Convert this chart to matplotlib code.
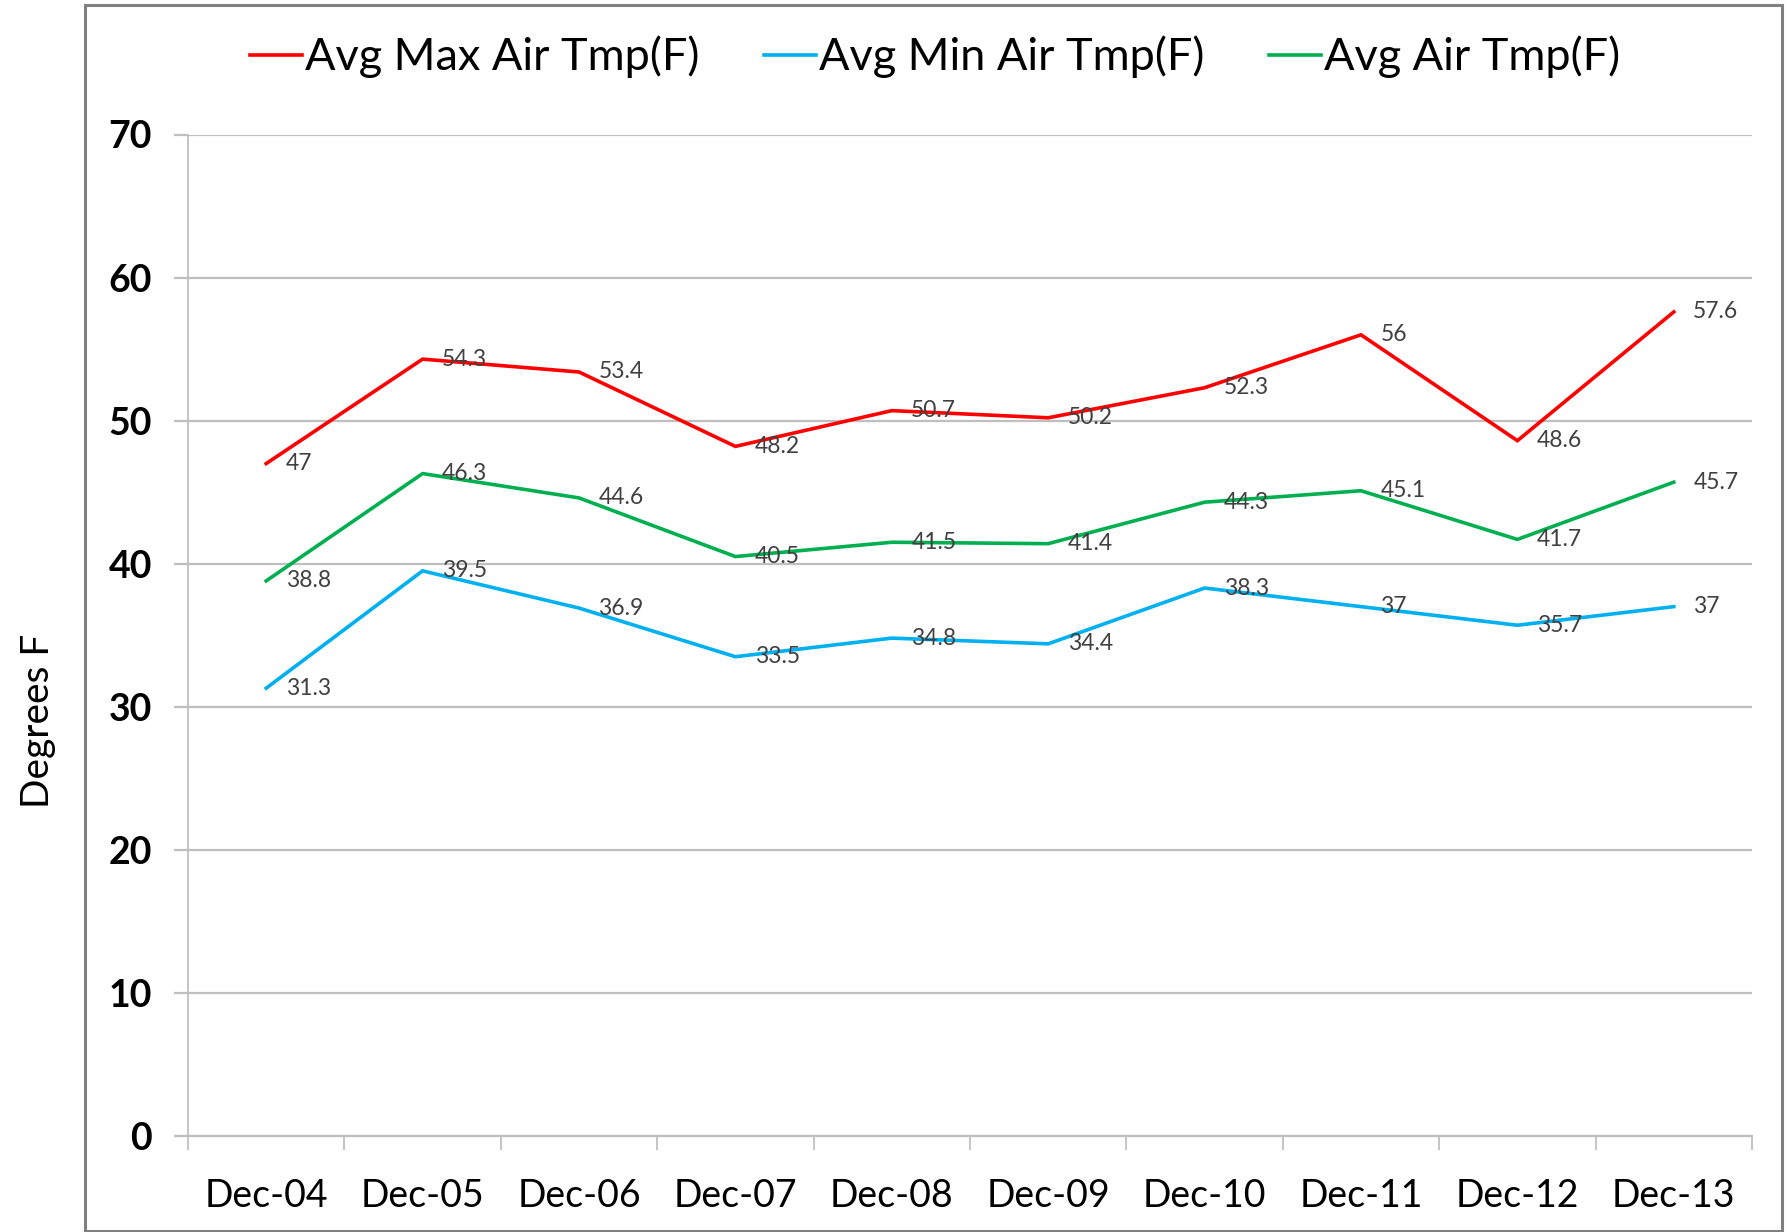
import matplotlib
matplotlib.use("Agg")
import matplotlib.pyplot as plt
from matplotlib.patches import Rectangle

plt.rcParams['font.family'] = ['Lato', 'DejaVu Sans']

categories = ["Dec-04", "Dec-05", "Dec-06", "Dec-07", "Dec-08",
              "Dec-09", "Dec-10", "Dec-11", "Dec-12", "Dec-13"]
avg_max = [47, 54.3, 53.4, 48.2, 50.7, 50.2, 52.3, 56, 48.6, 57.6]
avg_min = [31.3, 39.5, 36.9, 33.5, 34.8, 34.4, 38.3, 37, 35.7, 37]
avg_air = [38.8, 46.3, 44.6, 40.5, 41.5, 41.4, 44.3, 45.1, 41.7, 45.7]
series_names = ["Avg Max Air Tmp(F)", "Avg Min Air Tmp(F)", "Avg Air Tmp(F)"]
series_colors = ["#FF0000", "#00B0F0", "#00B050"]
y_ticks = [0, 10, 20, 30, 40, 50, 60, 70]

W, H = 1787, 1232
fig = plt.figure(figsize=(W / 100, H / 100), dpi=100)
ax = fig.add_axes([188 / W, 1 - 1136 / H, (1752 - 188) / W, (1136 - 134.5) / H])

x = list(range(len(categories)))
lines = []
for vals, name, col in zip([avg_max, avg_min, avg_air], series_names, series_colors):
    ln, = ax.plot(x, vals, color=col, lw=2.6, label=name, solid_joinstyle='miter', zorder=3)
    lines.append(ln)
    for xi, v in zip(x, vals):
        ax.annotate(f"{v:g}", (xi, v), xytext=(14, 0), textcoords='offset points',
                    ha='left', va='center', fontsize=16.5, color='#404040', zorder=4)

ax.set_xlim(-0.5, len(categories) - 0.5)
ax.set_ylim(0, 70)
ax.set_yticks(y_ticks)
ax.set_yticklabels([str(t) for t in y_ticks], fontsize=27, fontweight='bold', color='black')
ax.yaxis.grid(True, color='#BFBFBF', lw=1.6, zorder=0)
ax.set_axisbelow(True)

ax.set_xticks(x)
ax.set_xticklabels(categories, fontsize=27, color='black')
ax.tick_params(axis='x', which='major', length=0, pad=30)
ax.set_xticks([i - 0.5 for i in range(len(categories) + 1)], minor=True)
ax.tick_params(axis='x', which='minor', length=10, width=1.3, color='#BFBFBF', direction='out')
ax.tick_params(axis='y', length=10, width=1.6, color='#BFBFBF', pad=16)

for s in ['top', 'right']:
    ax.spines[s].set_visible(False)
ax.spines['left'].set_color('#BFBFBF')
ax.spines['left'].set_linewidth(1.3)
ax.spines['bottom'].set_color('#BFBFBF')
ax.spines['bottom'].set_linewidth(1.6)

ax.set_ylabel("Degrees F", fontsize=28)
ax.yaxis.set_label_coords(-(188 - 56) / (1752 - 188), 0.415)

leg = fig.legend(lines, series_names, loc='center', bbox_to_anchor=(935 / W, 1 - 57 / H),
                 ncol=3, frameon=False, fontsize=32.5, handlelength=1.15,
                 handletextpad=0.05, columnspacing=1.45)

fig.patches.append(Rectangle((85 / W, 0.001), 1 - 85 / W - 0.003, 1 - 5 / H - 0.001,
                             transform=fig.transFigure, fill=False,
                             edgecolor='#808080', lw=2.2))

fig.savefig("out.png", dpi=100)
